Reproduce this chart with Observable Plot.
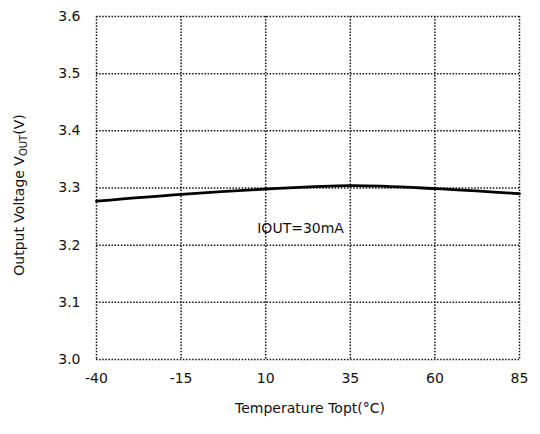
<!DOCTYPE html>
<html><head><meta charset="utf-8">
<script src="https://cdn.jsdelivr.net/npm/d3@7"></script>
<script src="https://cdn.jsdelivr.net/npm/@observablehq/plot@0.6"></script>
<style>body{margin:0;background:#fff}svg{display:block}</style>
</head><body><div id="chart"></div>
<script>
const temps = [-40, -15, 10, 35, 60, 85];
const vout = [3.277, 3.289, 3.298, 3.304, 3.299, 3.290];
const xTicks = [-40, -15, 10, 35, 60, 85];
const yTicks = [3.0, 3.1, 3.2, 3.3, 3.4, 3.5, 3.6];
const annotation = "IOUT=30mA";
const data = temps.map((t, i) => ({t, v: vout[i]}));
const dash = "1.5,1.6";
const gridColor = "#111";
const plot = Plot.plot({
  width: 540, height: 434,
  marginLeft: 96, marginRight: 21, marginTop: 16, marginBottom: 75,
  style: {fontFamily: "DejaVu Sans, sans-serif", fontSize: "14px", color: "#111", background: "#fff"},
  x: {domain: [-40, 85], ticks: xTicks, tickFormat: d => String(d), label: null, tickSize: 0, tickPadding: 14},
  y: {domain: [3.0, 3.6], ticks: yTicks, tickFormat: d3.format(".1f"), label: null, tickSize: 0, tickPadding: 16},
  marks: [
    Plot.ruleX(xTicks, {stroke: gridColor, strokeWidth: 1.5, strokeDasharray: dash}),
    Plot.ruleY(yTicks, {stroke: gridColor, strokeWidth: 1.5, strokeDasharray: dash}),
    Plot.line(data, {x: "t", y: "v", stroke: "#000", strokeWidth: 2.8, curve: "catmull-rom"}),
    Plot.text([annotation], {x: 7.5, y: 3.23, text: d => d, textAnchor: "start", fontSize: 14})
  ]
});
const svg = d3.select(plot);
svg.append("text")
  .attr("x", 310).attr("y", 413).attr("text-anchor", "middle")
  .attr("font-size", 14).attr("fill", "#111")
  .text("Temperature Topt(°C)");
const yt = svg.append("text")
  .attr("transform", "translate(24,195) rotate(-90)").attr("text-anchor", "middle")
  .attr("font-size", 14).attr("fill", "#111");
yt.append("tspan").text("Output Voltage V");
yt.append("tspan").attr("font-size", 10).attr("dy", 3).text("OUT");
yt.append("tspan").attr("dy", -3).text("(V)");
document.getElementById("chart").appendChild(plot);
</script></body></html>
